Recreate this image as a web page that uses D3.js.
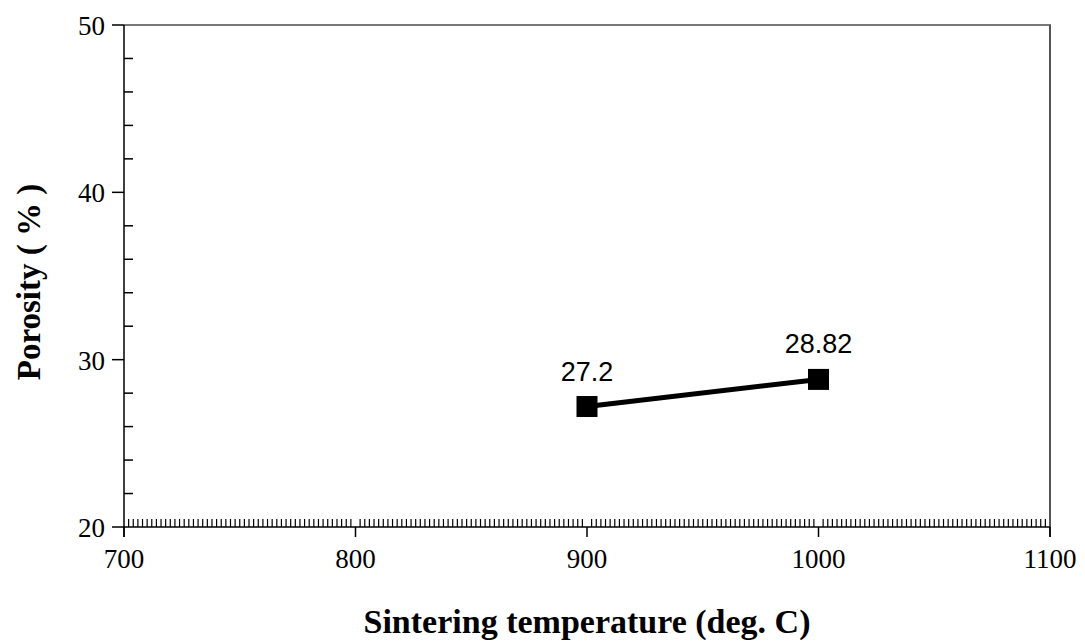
<!DOCTYPE html>
<html>
<head>
<meta charset="utf-8">
<script src="https://cdn.jsdelivr.net/npm/d3@7"></script>
<style>
  body { margin: 0; background: #fff; }
  svg { display: block; }
  .tick-label { font-family: "Liberation Serif", "Times New Roman", serif; font-size: 27px; fill: #000; }
  .axis-title { font-family: "Liberation Serif", "Times New Roman", serif; font-size: 34px; font-weight: bold; fill: #000; }
  .data-label { font-family: "Liberation Sans", Arial, sans-serif; font-size: 27px; fill: #000; }
</style>
</head>
<body>
<svg id="chart" width="1085" height="644"></svg>
<script>
// Porosity vs sintering temperature
const temps = [900, 1000];
const porosity = [27.2, 28.82];
const pointLabels = ["27.2", "28.82"];
const xTicks = [700, 800, 900, 1000, 1100];
const yTicks = [20, 30, 40, 50];

(function () {
    const svg = d3.select("#chart");

    const plotLeft = 124, plotRight = 1050, plotTop = 25, plotBottom = 527;

    const x = d3.scaleLinear().domain([700, 1100]).range([plotLeft, plotRight]);
    const y = d3.scaleLinear().domain([20, 50]).range([plotBottom, plotTop]);

    // frame (top / right, grey)
    svg.append("line")
        .attr("x1", plotLeft).attr("x2", plotRight + 1)
        .attr("y1", plotTop).attr("y2", plotTop)
        .attr("stroke", "#777").attr("stroke-width", 2);
    svg.append("line")
        .attr("x1", plotRight).attr("x2", plotRight)
        .attr("y1", plotTop).attr("y2", plotBottom + 10)
        .attr("stroke", "#555").attr("stroke-width", 2);

    // minor ticks on x every 2 deg, skipping majors
    const xMinor = d3.range(702, 1100, 2).filter(v => v % 100 !== 0);
    svg.append("g")
        .selectAll("line")
        .data(xMinor)
        .join("line")
        .attr("x1", d => x(d)).attr("x2", d => x(d))
        .attr("y1", plotBottom).attr("y2", plotBottom - 8)
        .attr("stroke", "#000").attr("stroke-width", 1.2);

    // major x ticks, pointing down
    svg.append("g")
        .selectAll("line")
        .data(xTicks)
        .join("line")
        .attr("x1", d => x(d)).attr("x2", d => x(d))
        .attr("y1", plotBottom).attr("y2", plotBottom + 10)
        .attr("stroke", "#000").attr("stroke-width", 1.5);

    // minor y ticks every 2, pointing right
    const yMinor = d3.range(22, 50, 2).filter(v => v % 10 !== 0);
    svg.append("g")
        .selectAll("line")
        .data(yMinor)
        .join("line")
        .attr("x1", plotLeft).attr("x2", plotLeft + 9)
        .attr("y1", d => y(d)).attr("y2", d => y(d))
        .attr("stroke", "#000").attr("stroke-width", 1.5);

    // major y ticks, pointing left
    svg.append("g")
        .selectAll("line")
        .data(yTicks)
        .join("line")
        .attr("x1", plotLeft - 12).attr("x2", plotLeft)
        .attr("y1", d => y(d)).attr("y2", d => y(d))
        .attr("stroke", "#000").attr("stroke-width", 1.5);

    // axis lines
    svg.append("line")
        .attr("x1", plotLeft).attr("x2", plotRight)
        .attr("y1", plotBottom).attr("y2", plotBottom)
        .attr("stroke", "#000").attr("stroke-width", 1.5);
    svg.append("line")
        .attr("x1", plotLeft).attr("x2", plotLeft)
        .attr("y1", plotTop).attr("y2", plotBottom + 10)
        .attr("stroke", "#000").attr("stroke-width", 1.5);

    // tick labels
    svg.append("g")
        .selectAll("text")
        .data(xTicks)
        .join("text")
        .attr("class", "tick-label")
        .attr("x", d => x(d))
        .attr("y", plotBottom + 41)
        .attr("text-anchor", "middle")
        .text(d => d);

    svg.append("g")
        .selectAll("text")
        .data(yTicks)
        .join("text")
        .attr("class", "tick-label")
        .attr("x", plotLeft - 19)
        .attr("y", d => y(d) + 10)
        .attr("text-anchor", "end")
        .text(d => d);

    // axis titles
    svg.append("text")
        .attr("class", "axis-title")
        .attr("x", 587)
        .attr("y", 633)
        .attr("text-anchor", "middle")
        .text("Sintering temperature (deg. C)");

    svg.append("text")
        .attr("class", "axis-title")
        .style("font-size", "33px")
        .attr("transform", "translate(40,282) rotate(-90)")
        .attr("text-anchor", "middle")
        .text("Porosity ( % )");

    // series
    const pts = temps.map((t, i) => ({ t, p: porosity[i], label: pointLabels[i] }));

    svg.append("path")
        .datum(pts)
        .attr("fill", "none")
        .attr("stroke", "#000")
        .attr("stroke-width", 5)
        .attr("d", d3.line().x(d => x(d.t)).y(d => y(d.p)));

    const sq = 21;
    svg.append("g")
        .selectAll("rect")
        .data(pts)
        .join("rect")
        .attr("x", d => x(d.t) - sq / 2)
        .attr("y", d => y(d.p) - sq / 2)
        .attr("width", sq)
        .attr("height", sq)
        .attr("fill", "#000");

    svg.append("g")
        .selectAll("text")
        .data(pts)
        .join("text")
        .attr("class", "data-label")
        .attr("x", d => x(d.t))
        .attr("y", d => y(d.p) - 26)
        .attr("text-anchor", "middle")
        .text(d => d.label);
})();
</script>
</body>
</html>
